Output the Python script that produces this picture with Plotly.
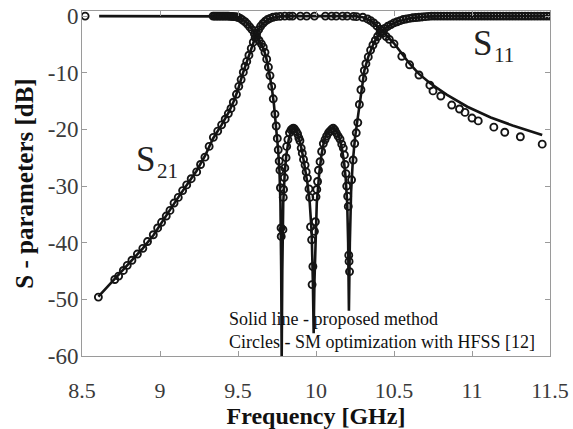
import plotly.graph_objects as go

# ---------------- data ----------------
# S21 solid line (proposed method)
s21_line_f = [8.605, 8.71, 8.82, 8.89, 8.96, 9.01, 9.064, 9.117, 9.171, 9.235, 9.29, 9.34,
              9.395, 9.44, 9.47, 9.50, 9.53, 9.556, 9.58, 9.60, 9.62, 9.64, 9.66, 9.70,
              9.75, 9.80, 10.25, 10.30, 10.35, 10.40, 10.45, 10.50, 10.55, 10.60, 10.66,
              10.73, 10.84, 10.97, 11.12, 11.26, 11.45]
s21_line_db = [-49.5, -46.4, -43.0, -41.0, -38.6, -36.4, -34.2, -32.0, -29.8, -27.3, -24.6, -21.6,
               -19.2, -17.0, -15.2, -13.0, -10.2, -8.0, -6.0, -4.4, -3.0, -2.0, -1.3, -0.5,
               -0.1, 0.0, 0.0, -0.2, -0.8, -2.0, -3.4, -4.8, -6.6, -8.4, -10.2,
               -11.8, -13.9, -16.0, -17.9, -19.3, -21.0]

# S11 solid line (proposed method)
s11_line_f = [8.61, 9.30, 9.45, 9.50, 9.53, 9.56, 9.59, 9.62, 9.64, 9.66, 9.68, 9.70, 9.715,
              9.73, 9.745, 9.757, 9.766, 9.772, 9.777, 9.780, 9.784, 9.790, 9.80, 9.81, 9.825,
              9.84, 9.855, 9.87, 9.885, 9.90, 9.915, 9.93, 9.945, 9.96, 9.972, 9.980, 9.985,
              9.990, 9.997, 10.005, 10.02, 10.035, 10.05, 10.07, 10.09, 10.11, 10.13, 10.15,
              10.165, 10.18, 10.19, 10.20, 10.206, 10.211, 10.217, 10.225, 10.235, 10.25,
              10.265, 10.28, 10.29, 10.31, 10.335, 10.37, 10.40, 10.44, 10.48, 10.52, 10.60,
              10.70, 10.80, 11.50]
s11_line_db = [0.0, 0.0, -0.05, -0.25, -0.6, -1.3, -2.3, -3.6, -4.5, -5.5, -7.2, -9.8, -12.3,
               -15.5, -19.5, -23.5, -27.5, -33.0, -45.0, -61.0, -45.0, -33.0, -27.5, -24.5, -21.8,
               -20.3, -19.8, -20.2, -21.0, -22.5, -24.5, -26.8, -29.5, -33.0, -38.0, -47.0, -56.0,
               -47.0, -38.0, -33.0, -28.0, -24.5, -22.3, -20.7, -20.0, -19.8, -20.3, -21.5,
               -23.2, -25.8, -28.5, -33.0, -40.0, -52.0, -40.0, -31.0, -26.0, -21.5,
               -18.5, -15.3, -12.9, -9.6, -7.2, -4.8, -3.4, -2.2, -1.5, -1.0, -0.4,
               -0.1, 0.0, 0.0]

# S21 circles (SM optimization with HFSS)
s21_circ_f = [8.605, 8.71, 8.735, 8.765, 8.79, 8.82, 8.855, 8.89, 8.92, 8.957, 8.985, 9.01,
              9.04, 9.064, 9.09, 9.117, 9.145, 9.171, 9.20, 9.235, 9.26, 9.288, 9.315, 9.342,
              9.37, 9.395, 9.418, 9.438, 9.455, 9.47, 9.49, 9.505, 9.52, 9.534, 9.545, 9.556,
              9.57, 9.585, 9.598, 9.61, 9.62, 9.632, 9.645, 9.66, 9.675, 9.69, 9.705, 9.724,
              9.745, 9.77, 9.80, 9.83, 9.85, 9.90, 9.94, 9.99, 10.06, 10.10, 10.13, 10.17,
              10.20, 10.24, 10.26, 10.30, 10.33, 10.35, 10.37, 10.39, 10.41, 10.43, 10.45,
              10.47, 10.50, 10.55, 10.60, 10.66, 10.73, 10.75, 10.80, 10.87, 10.92, 10.955,
              11.0, 11.04, 11.14, 11.21, 11.31, 11.45]
s21_circ_db = [-49.6, -46.5, -45.9, -44.9, -44.0, -43.1, -42.0, -41.0, -39.8, -38.6, -37.4, -36.4,
               -35.3, -34.3, -33.0, -32.0, -30.8, -29.8, -28.7, -27.5, -26.2, -24.9, -23.0, -21.4,
               -20.3, -19.2, -18.2, -17.2, -16.3, -15.2, -13.8, -12.4, -11.2, -9.9, -8.9, -8.0,
               -6.9, -5.7, -4.6, -3.8, -3.0, -2.4, -1.8, -1.3, -0.9, -0.6, -0.4, -0.2,
               -0.1, -0.05, 0.0, 0.0, 0.0, 0.0, 0.0, 0.0, 0.0, 0.0, 0.0, 0.0,
               0.0, -0.05, -0.1, -0.2, -0.5, -0.8, -1.2, -1.7, -2.3, -3.0, -3.6,
               -4.1, -4.9, -7.1, -8.6, -10.4, -12.2, -13.2, -14.1, -15.7, -16.4, -17.0,
               -18.0, -18.5, -19.6, -20.5, -21.3, -22.6]

# S11 circles (SM optimization with HFSS)
s11_circ_f = [8.52, 9.34, 9.35, 9.36, 9.37, 9.38, 9.39, 9.40, 9.41, 9.42, 9.43, 9.44, 9.45,
              9.46, 9.47, 9.48, 9.49, 9.50, 9.515, 9.53, 9.545, 9.56, 9.575, 9.59, 9.605,
              9.62, 9.635, 9.65, 9.662, 9.673, 9.684, 9.695, 9.705, 9.716, 9.726, 9.737,
              9.745, 9.752, 9.758, 9.764, 9.769, 9.772, 9.776, 9.777, 9.788, 9.79, 9.792,
              9.797, 9.80, 9.808, 9.812, 9.82, 9.83, 9.84, 9.848, 9.855, 9.862, 9.872,
              9.882, 9.89, 9.897, 9.905, 9.912, 9.92, 9.93, 9.937, 9.945, 9.955, 9.96,
              9.965, 9.972, 9.975, 9.98, 9.99, 9.996, 10.0, 10.005, 10.01, 10.016, 10.026,
              10.036, 10.047, 10.058, 10.068, 10.08, 10.09, 10.10, 10.11, 10.12, 10.13,
              10.142, 10.154, 10.165, 10.175, 10.182, 10.186, 10.192, 10.197, 10.203,
              10.207, 10.21, 10.212, 10.215, 10.228, 10.238, 10.248, 10.258, 10.268,
              10.278, 10.288, 10.30, 10.31, 10.32, 10.335, 10.35, 10.365, 10.38, 10.395,
              10.41, 10.425, 10.44, 10.46, 10.48, 10.50, 10.52, 10.54, 10.56, 10.58, 10.60,
              10.62, 10.64, 10.66, 10.68, 10.70, 10.72, 10.74, 10.76, 10.78, 10.80, 10.82,
              10.84, 10.86, 10.88, 10.90, 10.92, 10.94, 10.96, 10.98, 11.00, 11.02, 11.04,
              11.06, 11.08, 11.10, 11.12, 11.14, 11.16, 11.18, 11.20, 11.22, 11.24, 11.26,
              11.28, 11.30, 11.32, 11.34, 11.36, 11.38, 11.40, 11.42, 11.44, 11.46, 11.48,
              11.50]
s11_circ_db = [0.0, 0.0, 0.0, 0.0, 0.0, 0.0, 0.0, 0.0, 0.0, 0.0, 0.0, 0.0, -0.05,
               -0.05, -0.1, -0.1, -0.15, -0.2, -0.4, -0.7, -1.0, -1.4, -1.9, -2.4, -3.1,
               -3.7, -4.3, -4.9, -5.5, -6.4, -7.6, -9.0, -10.5, -12.4, -14.6, -17.3,
               -19.4, -21.6, -23.6, -25.6, -27.2, -30.3, -37.4, -38.9, -37.7, -32.0, -30.6,
               -28.5, -26.8, -25.0, -23.0, -21.8, -20.6, -20.1, -19.9, -19.8, -19.9, -20.3,
               -20.8, -21.5, -22.0, -23.3, -24.2, -25.3, -26.3, -27.5, -28.6, -30.5, -32.0,
               -37.2, -39.5, -47.4, -44.2, -38.0, -36.3, -31.9, -30.6, -29.2, -27.2, -25.7,
               -23.9, -22.5, -21.8, -21.2, -20.6, -20.3, -20.0, -19.8, -20.1, -20.6,
               -21.2, -21.7, -22.6, -23.3, -24.5, -26.2, -27.8, -30.0, -31.8,
               -33.6, -42.2, -43.3, -45.1, -28.9, -25.4, -22.5, -20.6, -18.8,
               -15.6, -13.0, -11.0, -9.6, -8.4, -7.2, -6.0, -5.1, -4.3, -3.6,
               -3.0, -2.6, -2.2, -1.8, -1.5, -1.2, -1.0, -0.8, -0.6, -0.5, -0.4,
               -0.3, -0.25, -0.2, -0.15, -0.1, -0.05, 0.0, 0.0, 0.0, 0.0, 0.0,
               0.0, 0.0, 0.0, 0.0, 0.0, 0.0, 0.0, 0.0, 0.0, 0.0, 0.0,
               0.0, 0.0, 0.0, 0.0, 0.0, 0.0, 0.0, 0.0, 0.0, 0.0, 0.0,
               0.0, 0.0, 0.0, 0.0, 0.0, 0.0, 0.0, 0.0, 0.0, 0.0, 0.0,
               0.0]

x_ticks = [8.5, 9, 9.5, 10, 10.5, 11, 11.5]
x_tick_text = ["8.5", "9", "9.5", "10", "10.5", "11", "11.5"]
y_ticks = [0, -10, -20, -30, -40, -50, -60]
y_tick_text = ["0", "-10", "-20", "-30", "-40", "-50", "-60"]

# ---------------- figure ----------------
SERIF = "Liberation Serif, Times New Roman, serif"
INK = "#141414"

fig = go.Figure()
for f, d in [(s21_line_f, s21_line_db), (s11_line_f, s11_line_db)]:
    fig.add_trace(go.Scatter(x=f, y=d, mode="lines",
                             line=dict(color=INK, width=2.6), hoverinfo="skip"))
for f, d in [(s21_circ_f, s21_circ_db), (s11_circ_f, s11_circ_db)]:
    fig.add_trace(go.Scatter(x=f, y=d, mode="markers",
                             marker=dict(symbol="circle-open", size=7, color=INK,
                                         line=dict(width=1.9, color=INK))))

axis_common = dict(showgrid=False, zeroline=False, showline=True, linecolor="#9a9a9a",
                   linewidth=1, mirror="allticks", ticks="inside", ticklen=5,
                   tickcolor="#9a9a9a", automargin=False)

fig.update_xaxes(range=[8.5, 11.5], tickvals=x_ticks, ticktext=x_tick_text,
                 ticklabelstandoff=15,
                 tickfont=dict(family=SERIF, size=22, color="#3a3a3a"),
                 title=dict(text="<b>Frequency [GHz]</b>", standoff=4,
                            font=dict(family=SERIF, size=24, color="#111")),
                 **axis_common)
fig.update_yaxes(range=[-60, 0.9], tickvals=y_ticks, ticktext=y_tick_text,
                 ticklabelstandoff=-2,
                 tickfont=dict(family=SERIF, size=23, color="#3a3a3a"),
                 title=dict(text="<b>S - parameters [dB]</b>", standoff=6,
                            font=dict(family=SERIF, size=25, color="#111")),
                 **axis_common)

annots = [
    dict(x=8.904, y=-25.4, text="S", font=dict(family=SERIF, size=35, color="#222")),
    dict(x=9.045, y=-27.3, text="21", font=dict(family=SERIF, size=21, color="#222")),
    dict(x=11.067, y=-4.9, text="S", font=dict(family=SERIF, size=35, color="#222")),
    dict(x=11.205, y=-6.9, text="11", font=dict(family=SERIF, size=21, color="#222")),
]
for a in annots:
    fig.add_annotation(xref="x", yref="y", showarrow=False, xanchor="center",
                       yanchor="middle", **a)

fig.add_annotation(x=9.43, y=-53.5, xref="x", yref="y", showarrow=False,
                   xanchor="left", yanchor="middle", text="Solid line - proposed method",
                   font=dict(family=SERIF, size=18, color="#111"))
fig.add_annotation(x=9.43, y=-57.5, xref="x", yref="y", showarrow=False,
                   xanchor="left", yanchor="middle",
                   text="Circles - SM optimization with HFSS [12]",
                   font=dict(family=SERIF, size=18, color="#111"))

fig.update_layout(width=573, height=429, margin=dict(l=82, r=23, t=11, b=73),
                  font=dict(family=SERIF, color="#111"),
                  paper_bgcolor="white", plot_bgcolor="white", showlegend=False)

fig.write_html("out.html")
